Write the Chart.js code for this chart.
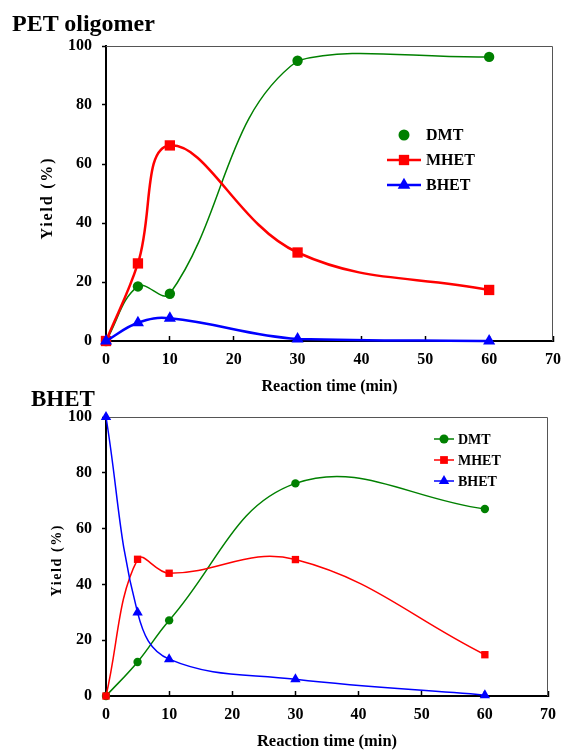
<!DOCTYPE html>
<html lang="en">
<head>
  <meta charset="UTF-8">
  <title>Yield vs reaction time</title>
  <script src="https://cdn.jsdelivr.net/npm/chart.js@4.4.2/dist/chart.umd.min.js"></script>
  <style>
    body { margin: 0; background: #fff; font-family: 'Liberation Serif', 'Times New Roman', serif; }
    .page { position: relative; width: 562px; height: 752px; overflow: hidden; }
    canvas { position: absolute; left: 0; }
    .panel-title { position: absolute; font-weight: bold; color: #000; line-height: 1; white-space: nowrap; }
  </style>
</head>
<body>
  <div class="page">
    <canvas id="oligomerChart" width="562" height="400" style="top:0"></canvas>
    <canvas id="bhetChart" width="562" height="372" style="top:380px"></canvas>
    <div class="panel-title" style="left:12px; top:11px; font-size:24px">PET oligomer</div>
    <div class="panel-title" style="left:31px; top:387px; font-size:23px">BHET</div>
  </div>

  <script>
    // sampling times (min) and axis ticks
    const times = [0, 5, 10, 30, 60];
    const xTicks = [0, 10, 20, 30, 40, 50, 60, 70];
    const yTicks = [0, 20, 40, 60, 80, 100];

    // yields (%) starting from PET oligomer
    const oligoDMT = [0, 18.5, 16, 95, 96.3];
    const oligoMHET = [0, 26.3, 66.3, 30, 17.3];
    const oligoBHET = [0, 6.2, 7.7, 0.7, 0];

    // yields (%) starting from BHET
    const bhetDMT = [0, 12.2, 27.1, 76.2, 67];
    const bhetMHET = [0, 49, 44, 48.9, 14.8];
    const bhetBHET = [100, 29.9, 13.2, 6, 0.3];

    const serif = "'Liberation Serif', 'Times New Roman', serif";
    const GREEN = '#008000', RED = '#ff0000', BLUE = '#0000ff';

    function series(label, values, color, style, radius, width, order) {
      return {
        label: label,
        data: times.map((t, i) => ({ x: t, y: values[i] })),
        borderColor: color,
        backgroundColor: color,
        pointBackgroundColor: color,
        pointBorderColor: color,
        pointBorderWidth: 0,
        pointStyle: style,
        pointRadius: radius,
        borderWidth: width,
        tension: 0.4,
        clip: false,
        order: order
      };
    }

    function marker(ctx, style, x, y, r, color) {
      ctx.fillStyle = color;
      ctx.beginPath();
      if (style === 'circle') {
        ctx.arc(x, y, r, 0, Math.PI * 2);
      } else if (style === 'rect') {
        const h = r * Math.SQRT1_2;
        ctx.rect(x - h, y - h, 2 * h, 2 * h);
      } else {
        const a = 2 * Math.PI / 3;
        ctx.moveTo(x, y - r);
        ctx.lineTo(x + r * Math.sin(a), y - r * Math.cos(a));
        ctx.lineTo(x - r * Math.sin(a), y - r * Math.cos(a));
        ctx.closePath();
      }
      ctx.fill();
    }

    // thin grey top/right edges of the plot box
    const frame = {
      id: 'frame',
      beforeDatasetsDraw(chart) {
        const { ctx, chartArea: a } = chart;
        ctx.save();
        ctx.strokeStyle = '#555';
        ctx.lineWidth = 1;
        ctx.beginPath();
        ctx.moveTo(a.left, a.top + 0.5);
        ctx.lineTo(a.right - 0.5, a.top + 0.5);
        ctx.lineTo(a.right - 0.5, a.bottom);
        ctx.stroke();
        ctx.restore();
      }
    };

    // rotated, letter-spaced y axis caption
    function yCaption(o) {
      return {
        id: 'yCaption',
        afterDraw(chart) {
          const { ctx, chartArea: a } = chart;
          ctx.save();
          ctx.translate(o.x, (a.top + a.bottom) / 2 + o.dy);
          ctx.rotate(-Math.PI / 2);
          ctx.font = o.font;
          ctx.fillStyle = '#000';
          ctx.textAlign = 'center';
          ctx.textBaseline = 'middle';
          if ('letterSpacing' in ctx) ctx.letterSpacing = o.spacing + 'px';
          ctx.fillText(o.text, o.spacing / 2, 0);
          ctx.restore();
        }
      };
    }

    // legend drawn inside the plot area
    function insetLegend(o) {
      return {
        id: 'insetLegend',
        afterDraw(chart) {
          const ctx = chart.ctx;
          ctx.save();
          chart.data.datasets.forEach((ds, i) => {
            const y = o.y + i * o.gap;
            if (o.lines[i]) {
              ctx.strokeStyle = ds.borderColor;
              ctx.lineWidth = ds.borderWidth;
              ctx.beginPath();
              ctx.moveTo(o.x - o.half, y);
              ctx.lineTo(o.x + o.half, y);
              ctx.stroke();
            }
            marker(ctx, ds.pointStyle, o.x, y, o.radius[i], ds.pointBackgroundColor);
            ctx.fillStyle = '#000';
            ctx.font = o.font;
            ctx.textAlign = 'left';
            ctx.textBaseline = 'middle';
            ctx.fillText(ds.label, o.textX, y + 1);
          });
          ctx.restore();
        }
      };
    }

    function chartOptions(p) {
      return {
        responsive: false,
        animation: false,
        events: [],
        layout: { padding: { left: 0, top: p.top, right: p.right, bottom: 0 } },
        plugins: { legend: { display: false }, tooltip: { enabled: false } },
        scales: {
          x: {
            type: 'linear', min: 0, max: 70,
            afterBuildTicks: s => { s.ticks = xTicks.map(v => ({ value: v })); },
            afterFit: s => { s.height = p.xHeight; s.paddingLeft = 0; s.paddingRight = 0; },
            grid: { drawOnChartArea: false, tickLength: -5, tickWidth: 1.5, tickColor: '#000' },
            border: { color: '#000', width: 2 },
            ticks: { color: '#000', padding: 14, autoSkip: false, maxRotation: 0,
                     font: { family: serif, size: 16, weight: 'bold' } },
            title: { display: true, text: 'Reaction time (min)', color: '#000',
                     font: { family: serif, size: p.xTitleSize, weight: 'bold' },
                     padding: { top: 0, bottom: p.xTitlePad } }
          },
          y: {
            min: 0, max: 100,
            afterBuildTicks: s => { s.ticks = yTicks.map(v => ({ value: v })); },
            afterFit: s => { s.width = 106; s.paddingTop = 0; s.paddingBottom = 0; },
            grid: { drawOnChartArea: false, tickLength: 4, tickWidth: 1.5, tickColor: '#000' },
            border: { color: '#000', width: 2 },
            ticks: { color: '#000', padding: 10, autoSkip: false,
                     font: { family: serif, size: 16, weight: 'bold' } }
          }
        }
      };
    }

    new Chart(document.getElementById('oligomerChart'), {
      type: 'line',
      data: {
        datasets: [
          series('DMT', oligoDMT, GREEN, 'circle', 5.2, 1.5, 2),
          series('MHET', oligoMHET, RED, 'rect', 7.3, 2.5, 1),
          series('BHET', oligoBHET, BLUE, 'triangle', 7, 2.5, 0)
        ]
      },
      options: chartOptions({ top: 46, right: 9, xHeight: 59, xTitleSize: 16, xTitlePad: 3.4 }),
      plugins: [frame,
                yCaption({ text: 'Yield (%)', x: 47.5, dy: 5.5, font: 'bold 16px ' + serif, spacing: 1.8 }),
                insetLegend({ x: 404, y: 135, gap: 25, half: 17, textX: 426,
                              font: 'bold 16px ' + serif, lines: [false, true, true],
                              radius: [5.5, 7.3, 7.3] })]
    });

    new Chart(document.getElementById('bhetChart'), {
      type: 'line',
      data: {
        datasets: [
          series('DMT', bhetDMT, GREEN, 'circle', 4.2, 1.5, 2),
          series('MHET', bhetMHET, RED, 'rect', 5.2, 1.5, 1),
          series('BHET', bhetBHET, BLUE, 'triangle', 6, 1.5, 0)
        ]
      },
      options: chartOptions({ top: 37, right: 14, xHeight: 56, xTitleSize: 16.5, xTitlePad: 0 }),
      plugins: [frame,
                yCaption({ text: 'Yield (%)', x: 57.5, dy: 4.5, font: 'bold 14px ' + serif, spacing: 1.6 }),
                insetLegend({ x: 444, y: 59, gap: 21, half: 10, textX: 458,
                              font: 'bold 14px ' + serif, lines: [true, true, true],
                              radius: [4.5, 5.5, 6] })]
    });
  </script>
</body>
</html>
